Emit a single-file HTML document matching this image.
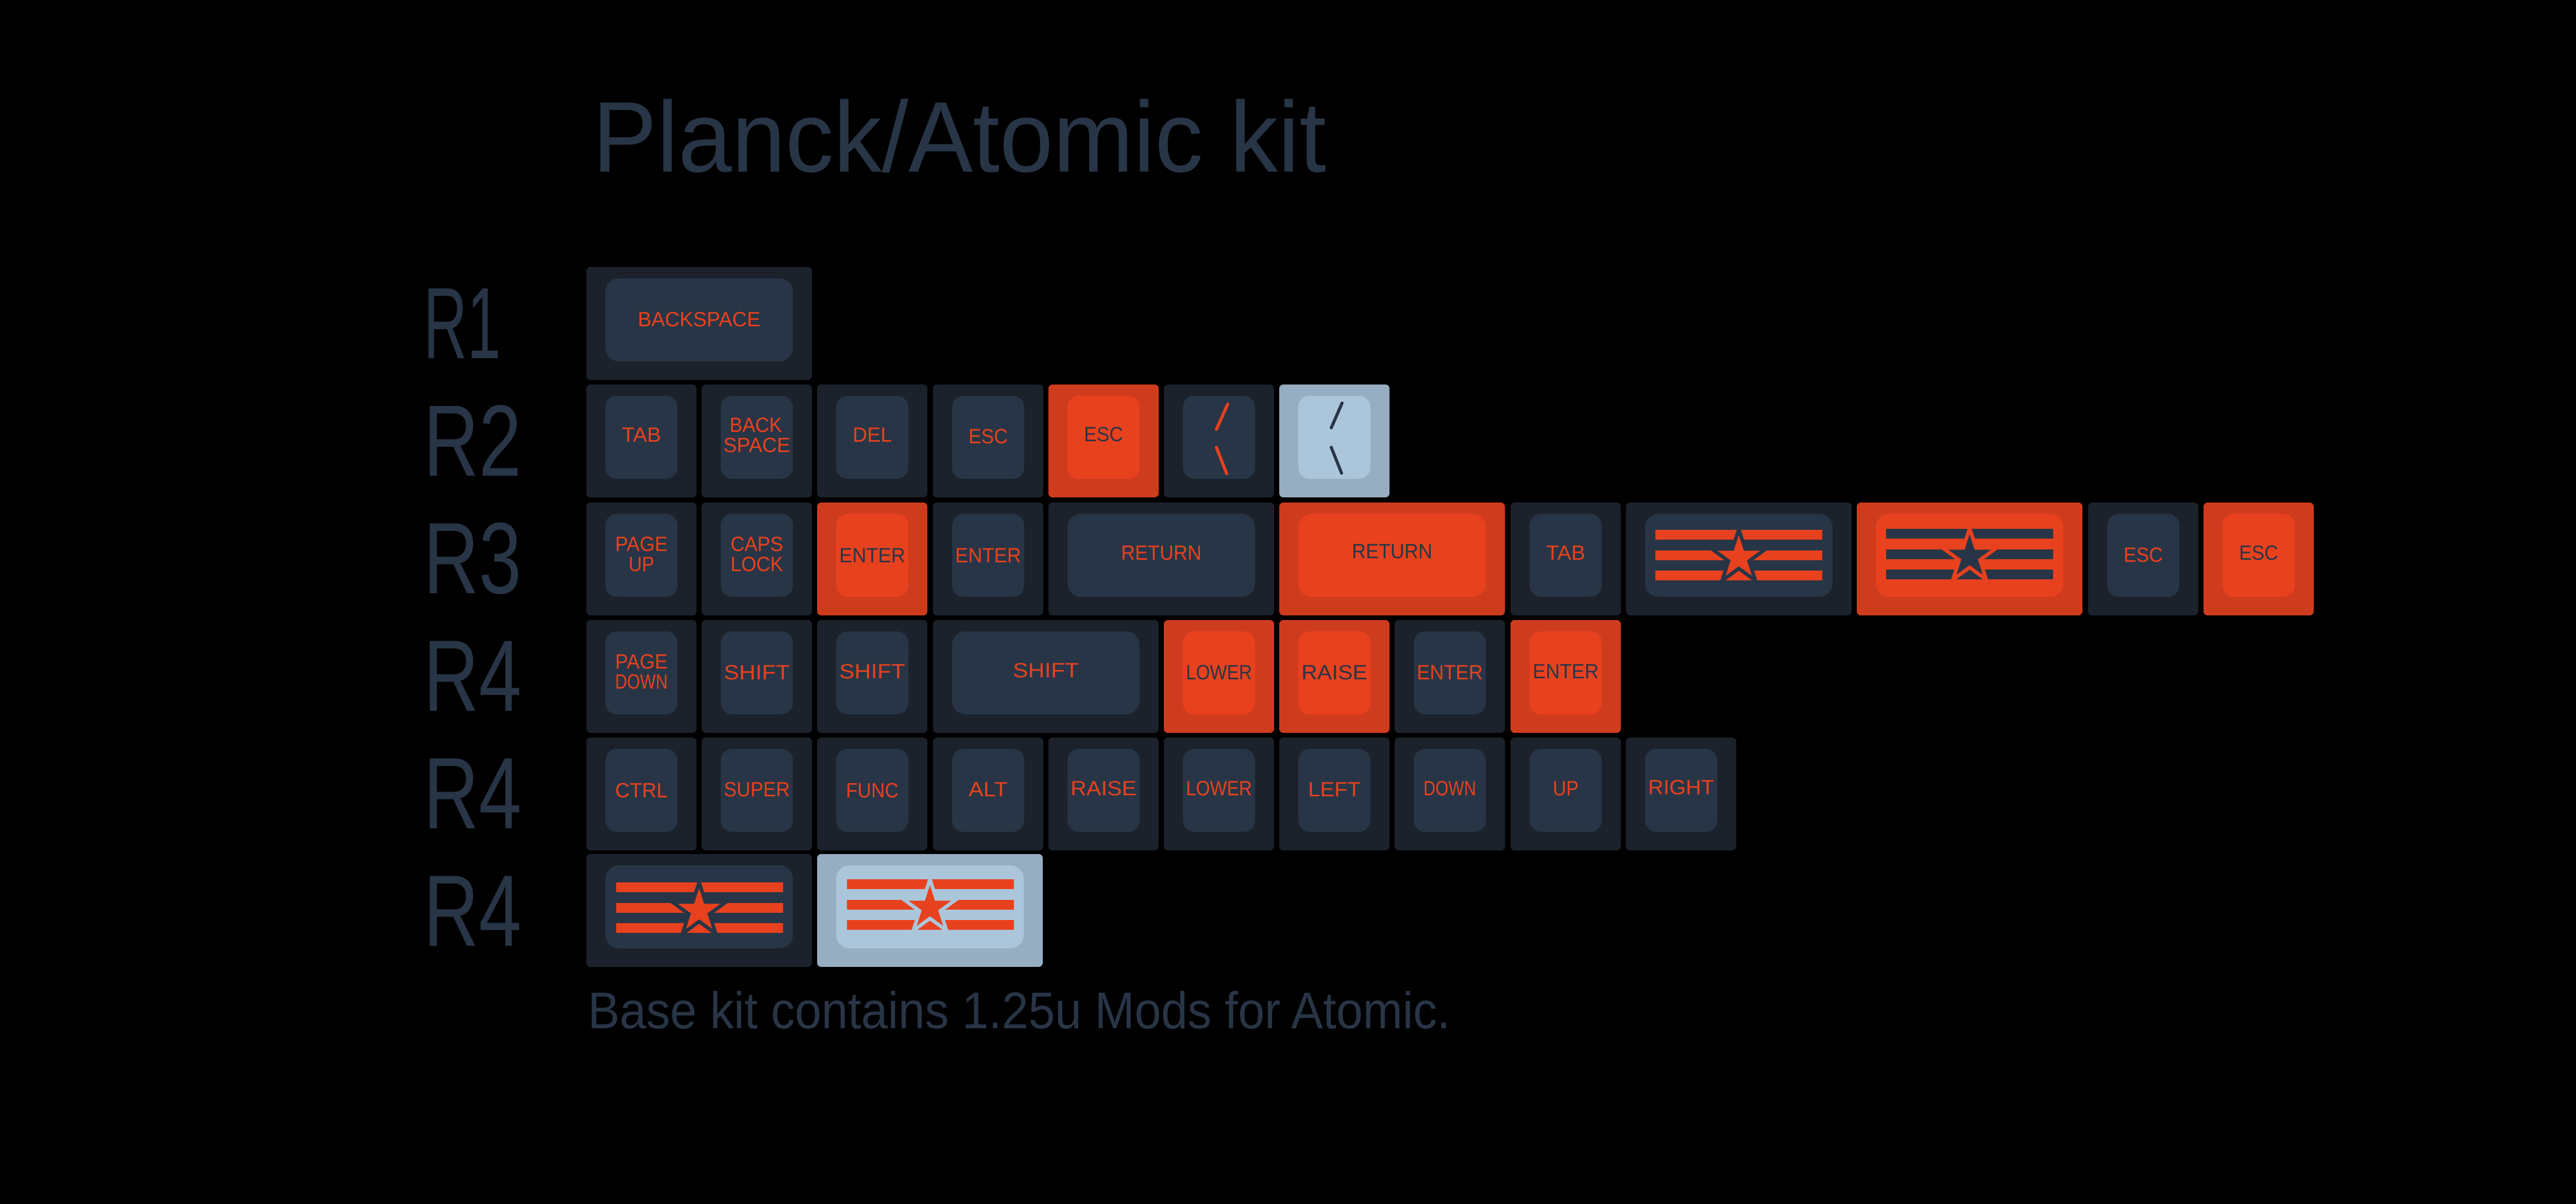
<!DOCTYPE html>
<html><head><meta charset="utf-8"><style>
html,body{margin:0;padding:0;background:#000;}
svg{display:block}
.t{font-family:"Liberation Sans Narrow","Liberation Sans",sans-serif;font-size:40px;text-anchor:middle}
.o{fill:#e8411e}.d{fill:#283546}
.big{font-family:"Liberation Sans",sans-serif;fill:#283546}
</style></head><body>
<svg width="5140" height="2336" viewBox="0 0 5140 2336" xmlns="http://www.w3.org/2000/svg">
<rect width="5140" height="2336" fill="#000"/>
<defs>
<g id="k1d"><rect width="214" height="219" rx="8" fill="#1b222b"/><rect x="37" y="22" width="140" height="161" rx="22" fill="#283546"/></g>
<g id="k1o"><rect width="214" height="219" rx="8" fill="#cf3c1d"/><rect x="37" y="22" width="140" height="161" rx="22" fill="#e8411e"/></g>
<g id="k1l"><rect width="214" height="219" rx="8" fill="#97adc2"/><rect x="37" y="22" width="140" height="161" rx="22" fill="#abc6db"/></g>
<g id="k2d"><rect width="438" height="219" rx="8" fill="#1b222b"/><rect x="37" y="22" width="364" height="161" rx="26" fill="#283546"/></g>
<g id="k2o"><rect width="438" height="219" rx="8" fill="#cf3c1d"/><rect x="37" y="22" width="364" height="161" rx="26" fill="#e8411e"/></g>
<g id="k2l"><rect width="438" height="219" rx="8" fill="#97adc2"/><rect x="37" y="22" width="364" height="161" rx="26" fill="#abc6db"/></g>
</defs>

<text class="big" x="1150" y="333" font-size="195" textLength="1424" lengthAdjust="spacingAndGlyphs">Planck/Atomic kit</text>
<text class="big" x="822" y="695" font-size="197" textLength="150" lengthAdjust="spacingAndGlyphs">R1</text>
<text class="big" x="822" y="923" font-size="197" textLength="190" lengthAdjust="spacingAndGlyphs">R2</text>
<text class="big" x="822" y="1151" font-size="197" textLength="190" lengthAdjust="spacingAndGlyphs">R3</text>
<text class="big" x="822" y="1379" font-size="197" textLength="190" lengthAdjust="spacingAndGlyphs">R4</text>
<text class="big" x="822" y="1607" font-size="197" textLength="190" lengthAdjust="spacingAndGlyphs">R4</text>
<text class="big" x="822" y="1835" font-size="197" textLength="190" lengthAdjust="spacingAndGlyphs">R4</text>
<text class="big" x="1141" y="1995" font-size="100" textLength="1674" lengthAdjust="spacingAndGlyphs">Base kit contains 1.25u Mods for Atomic.</text>

<!-- R1 -->
<use href="#k2d" x="1138" y="518"/>
<text class="t o" x="1357" y="633" textLength="238" lengthAdjust="spacingAndGlyphs">BACKSPACE</text>

<!-- R2 y=746 -->
<use href="#k1d" x="1138" y="746"/><text class="t o" x="1245" y="857" textLength="76" lengthAdjust="spacingAndGlyphs">TAB</text>
<use href="#k1d" x="1362" y="746"/><text class="t o" x="1467" y="838" textLength="102" lengthAdjust="spacingAndGlyphs">BACK</text><text class="t o" x="1469" y="877" textLength="130" lengthAdjust="spacingAndGlyphs">SPACE</text>
<use href="#k1d" x="1586" y="746"/><text class="t o" x="1693" y="857" textLength="76" lengthAdjust="spacingAndGlyphs">DEL</text>
<use href="#k1d" x="1811" y="746"/><text class="t o" x="1918" y="860" textLength="76" lengthAdjust="spacingAndGlyphs">ESC</text>
<use href="#k1o" x="2035" y="746"/><text class="t d" x="2142" y="856" textLength="76" lengthAdjust="spacingAndGlyphs">ESC</text>
<use href="#k1d" x="2259" y="746"/>
<line x1="2383" y1="784" x2="2361" y2="833" stroke="#e8411e" stroke-width="6" stroke-linecap="round"/>
<line x1="2361" y1="868" x2="2381" y2="919" stroke="#e8411e" stroke-width="6" stroke-linecap="round"/>
<use href="#k1l" x="2483" y="746"/>
<line x1="2605" y1="782" x2="2584" y2="830" stroke="#283546" stroke-width="6" stroke-linecap="round"/>
<line x1="2584" y1="868" x2="2604" y2="918" stroke="#283546" stroke-width="6" stroke-linecap="round"/>

<!-- R3 y=975 -->
<use href="#k1d" x="1138" y="975"/><text class="t o" x="1245" y="1069" textLength="102" lengthAdjust="spacingAndGlyphs">PAGE</text><text class="t o" x="1245" y="1108" textLength="50" lengthAdjust="spacingAndGlyphs">UP</text>
<use href="#k1d" x="1362" y="975"/><text class="t o" x="1469" y="1069" textLength="102" lengthAdjust="spacingAndGlyphs">CAPS</text><text class="t o" x="1469" y="1108" textLength="102" lengthAdjust="spacingAndGlyphs">LOCK</text>
<use href="#k1o" x="1586" y="975"/><text class="t d" x="1693" y="1091" textLength="128" lengthAdjust="spacingAndGlyphs">ENTER</text>
<use href="#k1d" x="1811" y="975"/><text class="t o" x="1918" y="1091" textLength="128" lengthAdjust="spacingAndGlyphs">ENTER</text>
<use href="#k2d" x="2035" y="975"/><text class="t o" x="2254" y="1086" textLength="156" lengthAdjust="spacingAndGlyphs">RETURN</text>
<use href="#k2o" x="2483" y="975"/><text class="t d" x="2702" y="1083" textLength="156" lengthAdjust="spacingAndGlyphs">RETURN</text>
<use href="#k1d" x="2932" y="975"/><text class="t o" x="3039" y="1086" textLength="76" lengthAdjust="spacingAndGlyphs">TAB</text>
<use href="#k2d" x="3156" y="975"/>
<g fill="#e8411e"><rect x="3213" y="1028" width="324" height="19"/><rect x="3213" y="1068" width="324" height="19"/><rect x="3213" y="1107" width="324" height="19"/></g>
<polygon transform="translate(3375,1082)" points="0,-55 12.3,-17 52.3,-17 20,6.5 32.3,44.5 0,21 -32.3,44.5 -20,6.5 -52.3,-17 -12.3,-17" fill="#e8411e" stroke="#283546" stroke-width="7" stroke-linejoin="miter"/>
<use href="#k2o" x="3604" y="975"/>
<g fill="#283546"><rect x="3661" y="1026" width="324" height="19"/><rect x="3661" y="1066" width="324" height="19"/><rect x="3661" y="1105" width="324" height="19"/></g>
<polygon transform="translate(3823,1080)" points="0,-55 12.3,-17 52.3,-17 20,6.5 32.3,44.5 0,21 -32.3,44.5 -20,6.5 -52.3,-17 -12.3,-17" fill="#283546" stroke="#e8411e" stroke-width="7"/>
<use href="#k1d" x="4053" y="975"/><text class="t o" x="4160" y="1090" textLength="76" lengthAdjust="spacingAndGlyphs">ESC</text>
<use href="#k1o" x="4277" y="975"/><text class="t d" x="4384" y="1086" textLength="76" lengthAdjust="spacingAndGlyphs">ESC</text>

<!-- R4 y=1203 -->
<use href="#k1d" x="1138" y="1203"/><text class="t o" x="1245" y="1297" textLength="102" lengthAdjust="spacingAndGlyphs">PAGE</text><text class="t o" x="1245" y="1336" textLength="102" lengthAdjust="spacingAndGlyphs">DOWN</text>
<use href="#k1d" x="1362" y="1203"/><text class="t o" x="1469" y="1318" textLength="128" lengthAdjust="spacingAndGlyphs">SHIFT</text>
<use href="#k1d" x="1586" y="1203"/><text class="t o" x="1693" y="1316" textLength="128" lengthAdjust="spacingAndGlyphs">SHIFT</text>
<use href="#k2d" x="1811" y="1203"/><text class="t o" x="2030" y="1314" textLength="128" lengthAdjust="spacingAndGlyphs">SHIFT</text>
<use href="#k1o" x="2259" y="1203"/><text class="t d" x="2366" y="1318" textLength="128" lengthAdjust="spacingAndGlyphs">LOWER</text>
<use href="#k1o" x="2483" y="1203"/><text class="t d" x="2590" y="1318" textLength="128" lengthAdjust="spacingAndGlyphs">RAISE</text>
<use href="#k1d" x="2707" y="1203"/><text class="t o" x="2814" y="1318" textLength="128" lengthAdjust="spacingAndGlyphs">ENTER</text>
<use href="#k1o" x="2932" y="1203"/><text class="t d" x="3039" y="1316" textLength="128" lengthAdjust="spacingAndGlyphs">ENTER</text>

<!-- R5 y=1431 -->
<use href="#k1d" x="1138" y="1431"/><text class="t o" x="1245" y="1547" textLength="102" lengthAdjust="spacingAndGlyphs">CTRL</text>
<use href="#k1d" x="1362" y="1431"/><text class="t o" x="1469" y="1545" textLength="128" lengthAdjust="spacingAndGlyphs">SUPER</text>
<use href="#k1d" x="1586" y="1431"/><text class="t o" x="1693" y="1547" textLength="102" lengthAdjust="spacingAndGlyphs">FUNC</text>
<use href="#k1d" x="1811" y="1431"/><text class="t o" x="1918" y="1545" textLength="76" lengthAdjust="spacingAndGlyphs">ALT</text>
<use href="#k1d" x="2035" y="1431"/><text class="t o" x="2142" y="1543" textLength="128" lengthAdjust="spacingAndGlyphs">RAISE</text>
<use href="#k1d" x="2259" y="1431"/><text class="t o" x="2366" y="1543" textLength="128" lengthAdjust="spacingAndGlyphs">LOWER</text>
<use href="#k1d" x="2483" y="1431"/><text class="t o" x="2590" y="1545" textLength="102" lengthAdjust="spacingAndGlyphs">LEFT</text>
<use href="#k1d" x="2707" y="1431"/><text class="t o" x="2814" y="1543" textLength="102" lengthAdjust="spacingAndGlyphs">DOWN</text>
<use href="#k1d" x="2932" y="1431"/><text class="t o" x="3039" y="1543" textLength="50" lengthAdjust="spacingAndGlyphs">UP</text>
<use href="#k1d" x="3156" y="1431"/><text class="t o" x="3263" y="1541" textLength="128" lengthAdjust="spacingAndGlyphs">RIGHT</text>

<!-- R6 y=1657 -->
<use href="#k2d" x="1138" y="1657"/>
<g fill="#e8411e"><rect x="1196" y="1712" width="324" height="19"/><rect x="1196" y="1752" width="324" height="19"/><rect x="1196" y="1791" width="324" height="19"/></g>
<polygon transform="translate(1357,1767)" points="0,-55 12.3,-17 52.3,-17 20,6.5 32.3,44.5 0,21 -32.3,44.5 -20,6.5 -52.3,-17 -12.3,-17" fill="#e8411e" stroke="#283546" stroke-width="7"/>
<use href="#k2l" x="1586" y="1657"/>
<g fill="#e8411e"><rect x="1644" y="1706" width="324" height="19"/><rect x="1644" y="1746" width="324" height="19"/><rect x="1644" y="1785" width="324" height="19"/></g>
<polygon transform="translate(1805,1761)" points="0,-55 12.3,-17 52.3,-17 20,6.5 32.3,44.5 0,21 -32.3,44.5 -20,6.5 -52.3,-17 -12.3,-17" fill="#e8411e" stroke="#abc6db" stroke-width="7"/>
</svg>
</body></html>
